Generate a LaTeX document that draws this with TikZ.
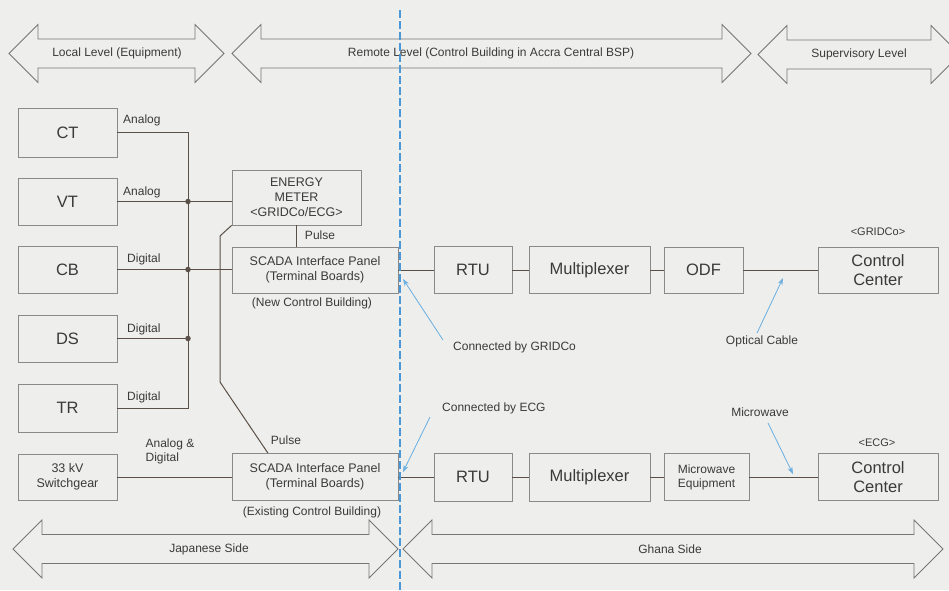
\documentclass[tikz,border=0pt]{standalone}
\usepackage{fontspec}
\setmainfont{Liberation Sans}
\usetikzlibrary{arrows.meta,calc}
\definecolor{bg}{HTML}{EEEEEC}
\definecolor{boxc}{HTML}{8A8A8A}
\definecolor{wirec}{HTML}{5A5048}
\definecolor{txt}{HTML}{3A3A3A}
\definecolor{arrc}{HTML}{767676}
\definecolor{bluec}{HTML}{6AAEE0}
\definecolor{dashc}{HTML}{4A98D6}
\newcommand{\DblArrow}[3]{%
  \draw[bigarrow] (#1,#3) -- ({#1+29},{#3-29}) -- ({#1+29},{#3-14.5}) -- ({#2-29},{#3-14.5}) -- ({#2-29},{#3-29}) -- (#2,#3) -- ({#2-29},{#3+29}) -- ({#2-29},{#3+14.5}) -- ({#1+29},{#3+14.5}) -- ({#1+29},{#3+29}) -- cycle;}
\begin{document}
\begin{tikzpicture}[x=1pt,y=-1pt,
  box/.style={draw=boxc, line width=0.6pt, inner sep=0pt, align=center, text=txt, font=\fontsize{12.5}{14.5}\selectfont},
  big/.style={font=\fontsize{16.5}{19}\selectfont},
  lbl/.style={text=txt, inner sep=0pt, font=\fontsize{12}{14}\selectfont},
  wire/.style={draw=wirec, line width=1pt},
  jdot/.style={circle, fill=wirec, inner sep=0pt, minimum size=5.5pt},
  bigarrow/.style={draw=arrc, line width=0.8pt, fill=bg, line join=miter},
  callout/.style={draw=bluec, line width=0.8pt, -{Stealth[length=7pt,width=5pt]}}]
\useasboundingbox (0,0) rectangle (949,590);
\fill[bg] (0,0) rectangle (949,590);
\clip (0,0) rectangle (949,590);

% level arrows
\DblArrow{9}{224}{53.5}
\DblArrow{232}{751}{53.5}
\DblArrow{758}{960}{54.5}
\node[lbl] (lv1) at (117,53.5) {Local Level (Equipment)};
\node[lbl] (lv2) at (491,53.5) {Remote Level (Control Building in Accra Central BSP)};
\node[lbl] (lv3) at (859,54.5) {Supervisory Level};

\DblArrow{13}{398}{549}
\DblArrow{403}{943}{549}
\node[lbl] (js) at (209,549) {Japanese Side};
\node[lbl] (gs) at (670,549) {Ghana Side};

% equipment boxes
\node[box,big,minimum width=99pt,minimum height=49pt] (CT) at (67.5,132.5) {CT};
\node[box,big,minimum width=99pt,minimum height=47pt] (VT) at (67.5,201.5) {VT};
\node[box,big,minimum width=99pt,minimum height=47pt] (CB) at (67.5,269.5) {CB};
\node[box,big,minimum width=99pt,minimum height=47pt] (DS) at (67.5,338.5) {DS};
\node[box,big,minimum width=99pt,minimum height=48pt] (TR) at (67.5,408) {TR};
\node[box,minimum width=99pt,minimum height=46pt] (SW) at (67.5,477) {33 kV\\Switchgear};

\node[box,minimum width=129pt,minimum height=55pt,font=\fontsize{12.5}{15}\selectfont] (EM) at (296.5,197.5) {ENERGY\\METER\\<GRIDCo/ECG>};
\node[box,minimum width=166pt,minimum height=46pt] (SC1) at (315,270) {SCADA Interface Panel\\(Terminal Boards)};
\node[box,minimum width=166pt,minimum height=47pt] (SC2) at (315,477) {SCADA Interface Panel\\(Terminal Boards)};

% right side boxes
\node[box,big,minimum width=78pt,minimum height=47pt] (RTU1) at (473,270) {RTU};
\node[box,big,minimum width=121pt,minimum height=47pt] (MUX1) at (589.5,270) {Multiplexer};
\node[box,big,minimum width=79pt,minimum height=46pt] (ODF) at (703.5,270) {ODF};
\node[box,big,minimum width=120pt,minimum height=46pt] (CC1) at (878,270) {Control\\Center};

\node[box,big,minimum width=78pt,minimum height=48pt] (RTU2) at (473,477) {RTU};
\node[box,big,minimum width=121pt,minimum height=48pt] (MUX2) at (589.5,477) {Multiplexer};
\node[box,minimum width=85pt,minimum height=47pt,font=\fontsize{12}{14}\selectfont] (MW) at (706.5,477) {Microwave\\Equipment};
\node[box,big,minimum width=120pt,minimum height=47pt] (CC2) at (878,477) {Control\\Center};

% wiring left
\coordinate (bus) at (188,0);
\draw[wire] (CT.east) -| (bus |- TR.east) -- (TR.east);
\draw[wire] (VT.east) -- (VT.east -| EM.west);
\draw[wire] (CB.east) -- (CB.east -| SC1.west);
\draw[wire] (DS.east) -- (DS.east -| bus);
\node[jdot] (j1) at (VT.east -| bus) {};
\node[jdot] (j2) at (CB.east -| bus) {};
\node[jdot] (j3) at (DS.east -| bus) {};
\draw[wire] (SW.east) -- (SW.east -| SC2.west);
\draw[wire] (EM.south) -- (EM.south |- SC1.north);
\coordinate (p1) at (220,236);
\coordinate (p2) at (220,382);
\coordinate (p3) at (268,0);
\draw[wire] (EM.south west) -- (p1) -- (p2) -- (p3 |- SC2.north);

% wiring right
\draw[wire] (SC1.east) -- (RTU1.west);
\draw[wire] (RTU1.east) -- (MUX1.west);
\draw[wire] (MUX1.east) -- (ODF.west);
\draw[wire] (ODF.east) -- (CC1.west);
\draw[wire] (SC2.east) -- (RTU2.west);
\draw[wire] (RTU2.east) -- (MUX2.west);
\draw[wire] (MUX2.east) -- (MW.west);
\draw[wire] (MW.east) -- (CC2.west);

% labels
\node[lbl,anchor=west] (la1) at (123,120) {Analog};
\node[lbl,anchor=west] (la2) at (123,192) {Analog};
\node[lbl,anchor=west] (ld1) at (127,259) {Digital};
\node[lbl,anchor=west] (ld2) at (127,329) {Digital};
\node[lbl,anchor=west] (ld3) at (127,397) {Digital};
\node[lbl,align=left] (lad) at (170,451) {Analog \&\\Digital};
\node[lbl] (pu1) at (320,235) {Pulse};
\node[lbl] (pu2) at (286,440) {Pulse};
\node[lbl] (ncb) at (312,303) {(New Control Building)};
\node[lbl] (ecb) at (312,512) {(Existing Control Building)};
\node[lbl,font=\fontsize{11}{13}\selectfont] (gr) at (878,232) {<GRIDCo>};
\node[lbl,font=\fontsize{11}{13}\selectfont] (ec) at (877,443) {<ECG>};
\node[lbl,anchor=west] (cg) at (453,347) {Connected by GRIDCo};
\node[lbl] (oc) at (762,341) {Optical Cable};
\node[lbl,anchor=west] (ce) at (442,408) {Connected by ECG};
\node[lbl] (mwl) at (760,412) {Microwave};

% callout arrows
\coordinate (g0) at (443,340); \coordinate (g1) at (403,279);
\coordinate (o0) at (757,333); \coordinate (o1) at (783,278);
\coordinate (e0) at (430,417); \coordinate (e1) at (403,472);
\coordinate (m0) at (768,423); \coordinate (m1) at (793,474);
\draw[callout] (g0) -- (g1);
\draw[callout] (o0) -- (o1);
\draw[callout] (e0) -- (e1);
\draw[callout] (m0) -- (m1);

% boundary dashed line
\coordinate (d0) at (400,10);
\coordinate (d1) at (400,592);
\draw[dashc, line width=2.6pt, dash pattern=on 8pt off 3pt] (d0) -- (d1);
\end{tikzpicture}
\end{document}
